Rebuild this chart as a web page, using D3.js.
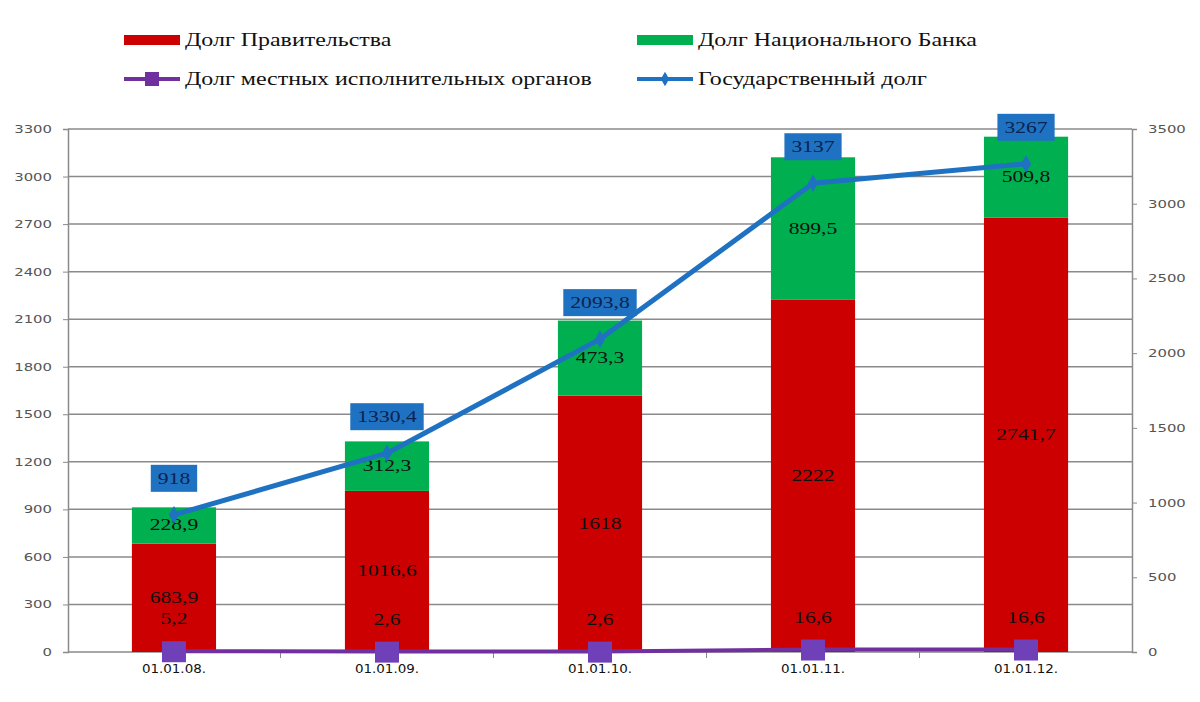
<!DOCTYPE html>
<head>
  <meta charset="utf-8" />
  <script src="https://d3js.org/d3.v7.min.js"></script>
  <style>
    body {
      margin: 0;
      background: #fff;
    }
    .axis text {
      font-family: Tahoma, "DejaVu Sans", sans-serif;
      font-size: 11px;
      fill: #555;
    }
    .xaxis text {
      fill: #111;
      font-size: 12px;
    }
    .lbl {
      font-family: "Liberation Serif", "Times New Roman", serif;
      font-size: 16px;
      fill: #111;
    }
    .legend text {
      font-family: "Liberation Serif", "Times New Roman", serif;
      font-size: 18px;
      fill: #111;
    }
  </style>
</head>

<body>
  <script>
    // данные
    var dates = ["01.01.08.", "01.01.09.", "01.01.10.", "01.01.11.", "01.01.12."];
    var gov = [683.9, 1016.6, 1618, 2222, 2741.7];
    var nbank = [228.9, 312.3, 473.3, 899.5, 509.8];
    var local = [5.2, 2.6, 2.6, 16.6, 16.6];
    var total = [918, 1330.4, 2093.8, 3137, 3267];
    var leftTicks = [0, 300, 600, 900, 1200, 1500, 1800, 2100, 2400, 2700, 3000, 3300];
    var rightTicks = [0, 500, 1000, 1500, 2000, 2500, 3000, 3500];

    var width = 1200,
      height = 702;
    var mLeft = 68, mRight = 1132, mTop = 129, mBottom = 652;

    var red = "#cc0000", green = "#00b050", purple = "#7030a0", blue = "#1f72c2";

    var fmt = function (v) { return String(v).replace(".", ","); };

    // картинка растянута по горизонтали — растягиваем текст
    function stretch(sel, k) {
      sel.each(function () {
        var l = this.getComputedTextLength();
        d3.select(this).attr("textLength", l * k).attr("lengthAdjust", "spacingAndGlyphs");
      });
    }

    var svg = d3.select("body").append("svg")
      .attr("width", width)
      .attr("height", height);

    var x = d3.scaleBand().domain(dates).range([mLeft, mRight]).paddingInner(0.605).paddingOuter(0.3);
    var yL = d3.scaleLinear().domain([0, 3300]).range([mBottom, mTop]);
    var yR = d3.scaleLinear().domain([0, 3500]).range([mBottom, mTop]);

    // сетка
    svg.append("g").selectAll("line")
      .data(leftTicks.slice(1))
      .join("line")
      .attr("x1", mLeft).attr("x2", mRight)
      .attr("y1", function (d) { return yL(d); })
      .attr("y2", function (d) { return yL(d); })
      .attr("stroke", "#8a8a8a").attr("stroke-width", 1.5);

    // оси
    var gl = svg.append("g").attr("class", "axis")
      .attr("transform", "translate(" + mLeft + ",0)")
      .call(d3.axisLeft(yL).tickValues(leftTicks).tickFormat(d3.format("d")).tickSize(5).tickPadding(11));
    var gr = svg.append("g").attr("class", "axis")
      .attr("transform", "translate(" + mRight + ",0)")
      .call(d3.axisRight(yR).tickValues(rightTicks).tickFormat(d3.format("d")).tickSize(5).tickPadding(11));
    [gl, gr].forEach(function (g) {
      g.select(".domain").attr("stroke", "#8a8a8a").attr("stroke-width", 1.5);
      g.selectAll(".tick line").attr("stroke", "#8a8a8a");
      stretch(g.selectAll(".tick text"), 1.35);
    });

    // ось x
    var gx = svg.append("g").attr("class", "axis xaxis")
      .attr("transform", "translate(0," + mBottom + ")");
    gx.append("line").attr("x1", mLeft).attr("x2", mRight)
      .attr("stroke", "#8a8a8a").attr("stroke-width", 1.5);
    var step = x.step();
    gx.selectAll(".sep")
      .data(dates.slice(1))
      .join("line")
      .attr("x1", function (d) { return x(d) + x.bandwidth() / 2 - step / 2; })
      .attr("x2", function (d) { return x(d) + x.bandwidth() / 2 - step / 2; })
      .attr("y1", 0).attr("y2", 6)
      .attr("stroke", "#8a8a8a");
    var xl = gx.selectAll(".xl")
      .data(dates)
      .join("text")
      .attr("x", function (d) { return x(d) + x.bandwidth() / 2; })
      .attr("y", 21)
      .attr("text-anchor", "middle")
      .text(function (d) { return d; });
    stretch(xl, 1.12);

    // столбцы
    var bars = svg.append("g");
    bars.selectAll(".gov")
      .data(dates)
      .join("rect")
      .attr("class", "gov")
      .attr("x", function (d) { return x(d); })
      .attr("width", x.bandwidth())
      .attr("y", function (d, i) { return yL(gov[i]); })
      .attr("height", function (d, i) { return yL(0) - yL(gov[i]); })
      .attr("fill", red);
    bars.selectAll(".nb")
      .data(dates)
      .join("rect")
      .attr("class", "nb")
      .attr("x", function (d) { return x(d); })
      .attr("width", x.bandwidth())
      .attr("y", function (d, i) { return yL(gov[i] + nbank[i]); })
      .attr("height", function (d, i) { return yL(gov[i]) - yL(gov[i] + nbank[i]); })
      .attr("fill", green);

    var cx = function (d) { return x(d) + x.bandwidth() / 2; };

    // подписи столбцов
    var l1 = svg.append("g").selectAll("text")
      .data(dates)
      .join("text")
      .attr("class", "lbl")
      .attr("x", cx)
      .attr("y", function (d, i) { return yL(gov[i] / 2) + 5; })
      .attr("text-anchor", "middle")
      .text(function (d, i) { return fmt(gov[i]); });
    var l2 = svg.append("g").selectAll("text")
      .data(dates)
      .join("text")
      .attr("class", "lbl")
      .attr("x", cx)
      .attr("y", function (d, i) { return yL(gov[i] + nbank[i] / 2) + 5; })
      .attr("text-anchor", "middle")
      .text(function (d, i) { return fmt(nbank[i]); });
    stretch(l1, 1.35);
    stretch(l2, 1.35);

    // местные органы
    var lineR = d3.line()
      .x(function (d, i) { return cx(dates[i]); })
      .y(function (d) { return yR(d); });
    svg.append("path")
      .attr("d", lineR(local))
      .attr("fill", "none")
      .attr("stroke", purple)
      .attr("stroke-width", 4);
    svg.append("g").selectAll("rect")
      .data(local)
      .join("rect")
      .attr("x", function (d, i) { return cx(dates[i]) - 12; })
      .attr("y", function (d) { return yR(d) - 10; })
      .attr("width", 24).attr("height", 21)
      .attr("fill", "#7040b8");
    var l3 = svg.append("g").selectAll("text")
      .data(local)
      .join("text")
      .attr("class", "lbl")
      .attr("x", function (d, i) { return cx(dates[i]); })
      .attr("y", function (d) { return yR(d) - 27; })
      .attr("text-anchor", "middle")
      .text(function (d) { return fmt(d); });
    stretch(l3, 1.35);

    // государственный долг
    svg.append("path")
      .attr("d", lineR(total))
      .attr("fill", "none")
      .attr("stroke", blue)
      .attr("stroke-width", 5)
      .attr("stroke-linejoin", "round");
    svg.append("g").selectAll("path")
      .data(total)
      .join("path")
      .attr("d", d3.symbol(d3.symbolDiamond, 90))
      .attr("transform", function (d, i) { return "translate(" + cx(dates[i]) + "," + yR(d) + ")"; })
      .attr("fill", blue);

    var tl = svg.append("g").selectAll("g")
      .data(total)
      .join("g")
      .attr("transform", function (d, i) { return "translate(" + cx(dates[i]) + "," + (yR(d) - 36) + ")"; });
    tl.append("rect")
      .attr("fill", blue)
      .attr("height", 27)
      .attr("y", -14);
    tl.append("text")
      .attr("class", "lbl")
      .attr("text-anchor", "middle")
      .attr("y", 5)
      .style("fill", "#0c2350")
      .text(function (d) { return fmt(d); });
    tl.each(function () {
      var t = d3.select(this).select("text");
      var len = t.node().getComputedTextLength() * 1.35;
      t.attr("textLength", len).attr("lengthAdjust", "spacingAndGlyphs");
      var w = len + 14;
      d3.select(this).select("rect").attr("x", -w / 2).attr("width", w);
    });

    // легенда
    var legend = svg.append("g").attr("class", "legend");
    var items = [
      { name: "Долг Правительства", color: red, type: "bar", x: 124, y: 40 },
      { name: "Долг Национального Банка", color: green, type: "bar", x: 637, y: 40 },
      { name: "Долг местных исполнительных органов", color: purple, type: "sq", x: 124, y: 79 },
      { name: "Государственный долг", color: blue, type: "dia", x: 637, y: 79 }
    ];
    items.forEach(function (it) {
      var g = legend.append("g").attr("transform", "translate(" + it.x + "," + it.y + ")");
      if (it.type == "bar") {
        g.append("rect").attr("x", 0).attr("y", -5).attr("width", 56).attr("height", 10).attr("fill", it.color);
      } else {
        g.append("line").attr("x1", 0).attr("x2", 56).attr("stroke", it.color).attr("stroke-width", 4);
        if (it.type == "sq") {
          g.append("rect").attr("x", 21).attr("y", -7).attr("width", 14).attr("height", 14).attr("fill", it.color);
        } else {
          g.append("path").attr("d", d3.symbol(d3.symbolDiamond, 60)).attr("transform", "translate(28,0)").attr("fill", it.color);
        }
      }
      var t = g.append("text").attr("x", 61).attr("y", 6).text(it.name);
      stretch(t, 1.33);
    });
  </script>
</body>
